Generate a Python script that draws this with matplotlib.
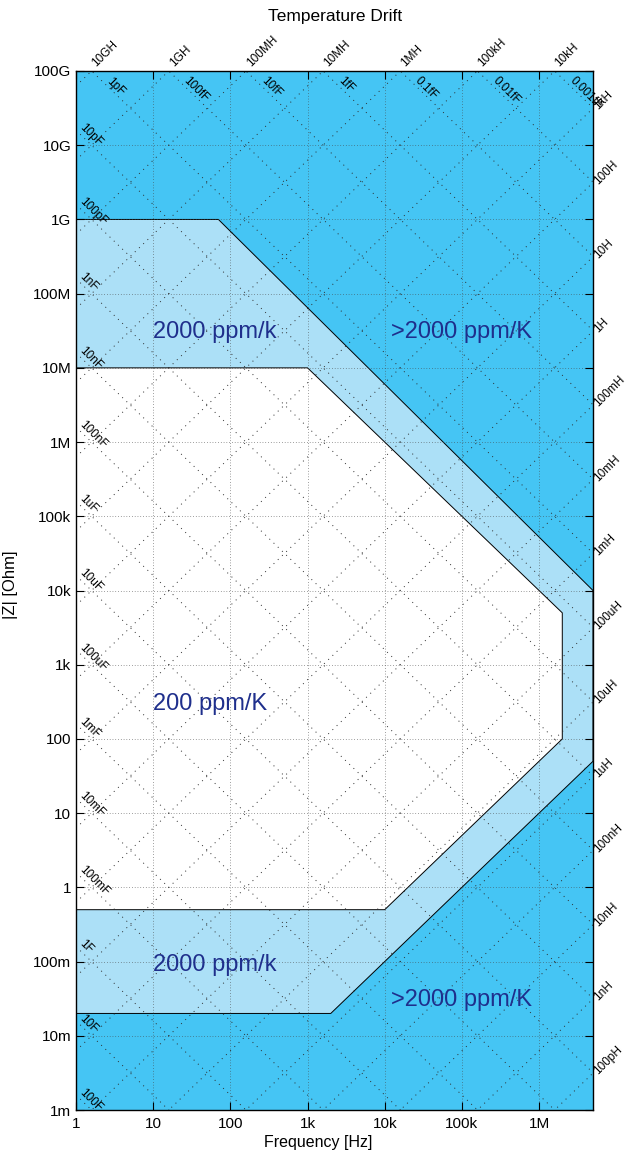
import numpy as np
import matplotlib
matplotlib.use('Agg')
import matplotlib.pyplot as plt
from matplotlib.patches import Polygon

plt.rcParams['font.family'] = ['Liberation Sans', 'DejaVu Sans']

# axis ranges and ticks
f_min, f_max = 1, 5e6
z_min, z_max = 1e-3, 1e11
freq_ticks = [1, 10, 100, 1e3, 1e4, 1e5, 1e6]
freq_labels = ['1', '10', '100', '1k', '10k', '100k', '1M']
z_ticks = [1e-3, 1e-2, 1e-1, 1, 10, 100, 1e3, 1e4, 1e5, 1e6, 1e7, 1e8, 1e9, 1e10, 1e11]
z_labels = ['1m', '10m', '100m', '1', '10', '100', '1k', '10k', '100k', '1M', '10M',
            '100M', '1G', '10G', '100G']

# reactance lines
cap_values = [1e-18, 1e-17, 1e-16, 1e-15, 1e-14, 1e-13, 1e-12, 1e-11, 1e-10, 1e-9, 1e-8,
              1e-7, 1e-6, 1e-5, 1e-4, 1e-3, 1e-2, 1e-1, 1, 10, 100]
cap_labels = ['0.001fF', '0.01fF', '0.1fF', '1fF', '10fF', '100fF', '1pF', '10pF', '100pF',
              '1nF', '10nF', '100nF', '1uF', '10uF', '100uF', '1mF', '10mF', '100mF', '1F',
              '10F', '100F']
ind_values = [1e-10, 1e-9, 1e-8, 1e-7, 1e-6, 1e-5, 1e-4, 1e-3, 1e-2, 1e-1, 1, 10, 100,
              1e3, 1e4, 1e5, 1e6, 1e7, 1e8, 1e9, 1e10]
ind_labels = ['100pH', '1nH', '10nH', '100nH', '1uH', '10uH', '100uH', '1mH', '10mH',
              '100mH', '1H', '10H', '100H', '1kH', '10kH', '100kH', '1MH', '10MH', '100MH',
              '1GH', '10GH']

# drift regions (corner points)
band_f = [1, 70, 5e6, 5e6, 2e3, 1]
band_z = [1e9, 1e9, 1e4, 50, 0.02, 0.02]
inner_f = [1, 1e3, 2e6, 2e6, 1e4, 1]
inner_z = [1e7, 1e7, 5e3, 100, 0.5, 0.5]

region_texts = ['2000 ppm/k', '>2000 ppm/K', '200 ppm/K', '2000 ppm/k', '>2000 ppm/K']
region_f = [10, 1.2e4, 10, 10, 1.2e4]
region_z = [3e7, 3e7, 300, 0.09, 0.03]

color_outer = '#45C5F4'
color_band = '#ACE0F7'
color_text = '#1F2F8C'
line_style = dict(color='#2a2a2a', linestyle=(0, (1, 5)), linewidth=0.7, zorder=1.2)
label_size = 8.5


def add_region(ax, f, z, color):
    poly = Polygon(np.column_stack([f, z]), closed=True, facecolor=color,
                   edgecolor='black', linewidth=0.7, zorder=0.6)
    ax.add_patch(poly)


def plot_reactance_lines(ax):
    f = np.array([f_min, f_max])
    for c, label in zip(cap_values, cap_labels):
        z = 1 / (2 * np.pi * f * c)
        ax.plot(f, z, **line_style)
        z_left = z[0]
        if z_left <= z_max:
            ax.annotate(label, (f_min, z_left), xytext=(1, 0), textcoords='offset points',
                        rotation=-45, rotation_mode='anchor', ha='left', va='bottom',
                        fontsize=label_size, annotation_clip=False)
        else:
            f_top = 1 / (2 * np.pi * c * z_max)
            ax.annotate(label, (f_top, z_max), xytext=(9, -9), textcoords='offset points',
                        rotation=-45, rotation_mode='anchor', ha='left', va='bottom',
                        fontsize=label_size, annotation_clip=False)
    for l, label in zip(ind_values, ind_labels):
        z = 2 * np.pi * f * l
        ax.plot(f, z, **line_style)
        z_right = z[1]
        if z_right <= z_max:
            ax.annotate(label, (f_max, z_right), xytext=(2, 0), textcoords='offset points',
                        rotation=45, rotation_mode='anchor', ha='left', va='center',
                        fontsize=label_size, annotation_clip=False)
        else:
            f_top = z_max / (2 * np.pi * l)
            ax.annotate(label, (f_top, z_max), xytext=(5, 1), textcoords='offset points',
                        rotation=45, rotation_mode='anchor', ha='left', va='bottom',
                        fontsize=label_size, annotation_clip=False)


fig = plt.figure(figsize=(6.26, 11.55), dpi=100)
ax = fig.add_axes([76 / 626, 1 - 1110 / 1155, (593 - 76) / 626, (1110 - 71) / 1155])
ax.set_xscale('log')
ax.set_yscale('log')
ax.set_xlim(f_min, f_max)
ax.set_ylim(z_min, z_max)
ax.set_facecolor(color_outer)

add_region(ax, band_f, band_z, color_band)
add_region(ax, inner_f, inner_z, 'white')
plot_reactance_lines(ax)

for text, f, z in zip(region_texts, region_f, region_z):
    ax.text(f, z, text, color=color_text, fontsize=17, ha='left', va='center', zorder=3)

ax.set_xticks(freq_ticks)
ax.set_xticklabels(freq_labels)
ax.set_yticks(z_ticks)
ax.set_yticklabels(z_labels)
ax.minorticks_off()
ax.tick_params(direction='in', top=True, right=True, length=6, width=0.8, labelsize=11)
ax.tick_params(axis='x', pad=5)
ax.grid(True, which='major', color='#444444', linestyle=(0, (1, 3)), linewidth=0.5)
ax.set_axisbelow(False)
for spine in ax.spines.values():
    spine.set_linewidth(1.0)
    spine.set_zorder(4)

fig.text(318 / 626, 1 - 1142 / 1155, 'Frequency [Hz]', ha='center', va='center', fontsize=11.5)
fig.text(10 / 626, 1 - 585 / 1155, '|Z| [Ohm]', ha='center', va='center', rotation=90,
         fontsize=12)
fig.text(335 / 626, 1 - 17 / 1155, 'Temperature Drift', ha='center', va='center', fontsize=12.5)

fig.savefig('out.png', dpi=100)
